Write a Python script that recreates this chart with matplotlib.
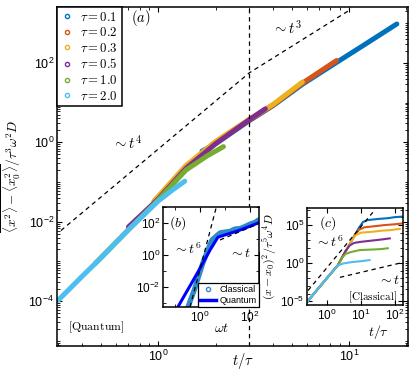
import numpy as np
import matplotlib
matplotlib.use('Agg')
import matplotlib.pyplot as plt
from matplotlib.lines import Line2D
from matplotlib.ticker import LogLocator, NullFormatter

plt.rcParams['font.family'] = ['Liberation Sans', 'DejaVu Sans']
plt.rcParams['mathtext.fontset'] = 'cm'
plt.rcParams['axes.linewidth'] = 1.1

#######################################################################################################
# data
#######################################################################################################
tau_labels = [r'$\tau = 0.1$', r'$\tau = 0.2$', r'$\tau = 0.3$', r'$\tau = 0.5$', r'$\tau = 1.0$', r'$\tau = 2.0$']
colors = ['#0072BD', '#D95319', '#EDB120', '#7E2F8E', '#77AC30', '#4DBEEE']

# (a) quantum, main panel: t/tau vs normalised variance
x_tau01 = [1.7, 2.0, 3.0, 4.0, 5.7, 8.6, 12.0, 17.8]
y_tau01 = [0.6, 0.92, 3.5, 8.4, 29, 103, 285, 960]
x_tau02 = [1.9, 3.0, 4.0, 5.7, 8.6]
y_tau02 = [0.85, 3.6, 8.7, 31, 115]
x_tau03 = [0.95, 1.4, 2.0, 3.0, 4.0, 5.7]
y_tau03 = [0.033, 0.26, 1.05, 3.8, 9.0, 33]
x_tau05 = [0.7, 1.0, 1.4, 2.0, 3.0, 3.65]
y_tau05 = [7.4e-3, 0.037, 0.22, 0.92, 3.7, 7.0]
x_tau10 = [0.47, 0.7, 1.0, 1.4, 1.8, 2.2]
y_tau10 = [9e-4, 6.3e-3, 0.035, 0.2, 0.45, 0.78]
x_tau20 = [0.3, 0.4, 0.5, 0.7, 1.0, 1.2, 1.38]
y_tau20 = [1.05e-4, 4.2e-4, 1.2e-3, 6.3e-3, 0.033, 0.065, 0.105]

guide_a_x = [0.31, 3.0, 10.0]          # ~t^4 then ~t^3
guide_a_y = [6.0e-3, 56, 2.1e3]
t_vline = 3.0

# (b) classical vs quantum, omega t
b_classical_t = [0.33, 0.6, 1.3, 3.0, 6.3, 10, 16, 25, 40, 63, 100, 160, 210]
b_classical_y = [5.6e-4, 7e-3, 0.32, 8.7, 24, 27, 30, 42, 45, 60, 85, 110, 150]
b_quantum_t = [0.13, 0.83, 2.5, 5.2, 10, 32, 100, 210]
b_quantum_y = [5.6e-4, 0.087, 2.0, 13, 18, 32, 63, 100]
b_t6_x, b_t6_y = [0.4, 4.4], [5.6e-4, 870]
b_t1_x, b_t1_y = [6.3, 210], [8.7, 87]

# (c) classical, all tau
c_x_tau01 = [0.26, 0.5, 1.0, 1.6, 2.1, 2.8, 3.5, 4.5, 5.6, 7.1, 8.9, 11.5, 15.8, 31.6, 63, 100, 180]
c_y_tau01 = [8e-6, 2.8e-4, 1.1e-2, 0.13, 0.54, 5.8, 35, 220, 1350, 8.3e3, 5e4, 2.5e5, 4.5e5, 6.3e5, 8e5, 1.1e6, 1.3e6]
c_x_tau02 = [0.26, 0.5, 1.0, 1.6, 2.1, 2.8, 3.5, 4.5, 5.6, 7.1, 8.9, 12.6, 25, 50, 100, 158]
c_y_tau02 = [8e-6, 2.8e-4, 1.1e-2, 0.13, 0.54, 5.8, 35, 220, 1350, 8e3, 2.5e4, 5e4, 7e4, 1e5, 1.26e5, 1.6e5]
c_x_tau03 = [0.26, 0.5, 1.0, 1.6, 2.1, 2.8, 3.5, 4.5, 5.6, 7.1, 10, 20, 40, 79, 141]
c_y_tau03 = [8e-6, 2.8e-4, 1.1e-2, 0.13, 0.54, 5.8, 35, 220, 1260, 5e3, 1e4, 1.26e4, 1.8e4, 2.2e4, 3.2e4]
c_x_tau05 = [0.26, 0.5, 1.0, 1.6, 2.1, 2.8, 3.5, 4.6, 6.3, 10, 20, 40, 71]
c_y_tau05 = [8e-6, 2.8e-4, 1.1e-2, 0.13, 0.54, 5.8, 35, 200, 450, 630, 890, 1260, 1780]
c_x_tau10 = [0.26, 0.5, 1.0, 1.6, 2.1, 2.8, 3.5, 5.0, 9.3, 20, 40, 62]
c_y_tau10 = [8e-6, 2.8e-4, 1.1e-2, 0.13, 0.54, 5.0, 16, 28, 52, 60, 70, 89]
c_x_tau20 = [0.26, 0.5, 1.0, 1.6, 2.1, 3.0, 5.0, 10, 18]
c_y_tau20 = [8e-6, 2.8e-4, 1.1e-2, 0.13, 0.5, 0.9, 1.3, 1.8, 2.5]
c_t6_x, c_t6_y = [0.275, 22.4], [2.5e-4, 4.7e6]
c_t1_x, c_t1_y = [2.4, 141], [0.0135, 1.0]


def matlab_ticks(ax, size=8):
    ax.tick_params(which='both', direction='in', top=True, right=True, labelsize=size, pad=2)
    ax.tick_params(which='major', length=3.5, width=0.8)
    ax.tick_params(which='minor', length=2, width=0.6)


fig = plt.figure(figsize=(4.15, 3.73), dpi=100)

#######################################################################################################
# (a) main panel
#######################################################################################################
ax = fig.add_axes([57 / 415, 1 - 346 / 373, 351 / 415, 339 / 373])
main_x = [x_tau01, x_tau02, x_tau03, x_tau05, x_tau10, x_tau20]
main_y = [y_tau01, y_tau02, y_tau03, y_tau05, y_tau10, y_tau20]
for xs, ys, c in zip(main_x, main_y, colors):
    ax.plot(xs, ys, color=c, lw=3.6, solid_capstyle='round')
ax.plot(guide_a_x, guide_a_y, 'k--', lw=0.9, dashes=(3.5, 3))
ax.axvline(t_vline, color='k', ls='--', lw=0.9, dashes=(3.5, 3))
ax.set_xscale('log')
ax.set_yscale('log')
ax.set_xlim(10 ** -0.529, 10 ** 1.309)
ax.set_ylim(10 ** -5.13, 10 ** 3.41)
ax.set_xticks([1, 10])
ax.set_yticks([1e-4, 1e-2, 1, 1e2])
ax.xaxis.set_minor_locator(LogLocator(base=10, subs=np.arange(1, 10), numticks=50))
ax.yaxis.set_minor_locator(LogLocator(base=10, subs=np.arange(1, 10), numticks=50))
ax.xaxis.set_minor_formatter(NullFormatter())
ax.yaxis.set_minor_formatter(NullFormatter())
matlab_ticks(ax, size=9)
ax.set_xlabel(r'$t/\tau$', fontsize=10.5)
ax.xaxis.set_label_coords(0.53, -0.015)
ax.set_ylabel(r'$\overline{\langle x^2\rangle - \langle x_0^2\rangle}/\tau^3\omega^2 D$', fontsize=9.5)
ax.yaxis.set_label_coords(-0.1, 0.5)

handles = [Line2D([], [], ls='none', marker='o', ms=3, mfc='none', mec=c, mew=1) for c in colors]
leg = ax.legend(handles, tau_labels, loc='upper left', bbox_to_anchor=(0, 1), borderaxespad=0,
                fancybox=False, edgecolor='k', framealpha=1, fontsize=9.2, handlelength=0.9,
                handletextpad=0.6, labelspacing=0.2, borderpad=0.3)
leg.get_frame().set_linewidth(1.1)

ax.text(0.21, 0.968, r'$(a)$', transform=ax.transAxes, fontsize=10.5, ha='left', va='center')
ax.text(0.2, 0.6, r'$\sim t^4$', transform=ax.transAxes, fontsize=10.5, ha='center', va='center')
ax.text(0.655, 0.938, r'$\sim t^3$', transform=ax.transAxes, fontsize=10.5, ha='center', va='center')
ax.text(0.03, 0.056, r'$\mathrm{[Quantum]}$', transform=ax.transAxes, fontsize=8.5, ha='left', va='center')

#######################################################################################################
# (b) inset: classical vs quantum
#######################################################################################################
axb = fig.add_axes([163 / 415, 1 - 307 / 373, 96 / 415, 100 / 373])
axb.plot(b_classical_t, b_classical_y, color='#2d8cc8', lw=3.8, solid_capstyle='round')
axb.plot(b_quantum_t, b_quantum_y, color='#0000ff', lw=2.2)
axb.plot(b_t6_x, b_t6_y, 'k--', lw=0.9, dashes=(3.5, 3))
axb.plot(b_t1_x, b_t1_y, 'k--', lw=0.9, dashes=(3.5, 3))
axb.set_xscale('log')
axb.set_yscale('log')
axb.set_xlim(10 ** -1.48, 10 ** 2.36)
axb.set_ylim(10 ** -3.25, 10 ** 3.0)
axb.set_xticks([1, 100])
axb.set_yticks([1e-2, 1, 1e2])
axb.xaxis.set_minor_locator(LogLocator(base=10, subs=(1.0,), numticks=20))
axb.yaxis.set_minor_locator(LogLocator(base=10, subs=(1.0,), numticks=20))
axb.xaxis.set_minor_formatter(NullFormatter())
axb.yaxis.set_minor_formatter(NullFormatter())
matlab_ticks(axb, size=8.5)
axb.set_xlabel(r'$\omega t$', fontsize=10)
axb.xaxis.set_label_coords(0.61, -0.14)
hb = [Line2D([], [], ls='none', marker='o', ms=3, mfc='none', mec='#2d8cc8', mew=1),
      Line2D([], [], color='#0000ff', lw=2.5)]
legb = axb.legend(hb, ['Classical', 'Quantum'], loc='lower right', borderaxespad=0, fancybox=False,
                  edgecolor='k', framealpha=1, fontsize=6.5, handlelength=1.8, handletextpad=0.4,
                  labelspacing=0.15, borderpad=0.25)
legb.get_frame().set_linewidth(0.9)
axb.text(0.06, 0.84, r'$(b)$', transform=axb.transAxes, fontsize=10, ha='left', va='center')
axb.text(0.25, 0.58, r'$\sim t^6$', transform=axb.transAxes, fontsize=10, ha='center', va='center')
axb.text(0.8, 0.54, r'$\sim t$', transform=axb.transAxes, fontsize=10, ha='center', va='center')

#######################################################################################################
# (c) inset: classical, all tau
#######################################################################################################
axc = fig.add_axes([307 / 415, 1 - 305 / 373, 96 / 415, 97 / 373])
c_x = [c_x_tau01, c_x_tau02, c_x_tau03, c_x_tau05, c_x_tau10, c_x_tau20]
c_y = [c_y_tau01, c_y_tau02, c_y_tau03, c_y_tau05, c_y_tau10, c_y_tau20]
for xs, ys, c in zip(c_x, c_y, colors):
    axc.plot(xs, ys, color=c, lw=1.5)
axc.plot(c_t6_x, c_t6_y, 'k--', lw=0.9, dashes=(3.5, 3))
axc.plot(c_t1_x, c_t1_y, 'k--', lw=0.9, dashes=(3.5, 3))
axc.set_xscale('log')
axc.set_yscale('log')
axc.set_xlim(10 ** -0.59, 10 ** 2.24)
axc.set_ylim(10 ** -5.5, 10 ** 7.24)
axc.set_xticks([1, 10, 100])
axc.set_yticks([1e-5, 1, 1e5])
axc.xaxis.set_minor_locator(LogLocator(base=10, subs=(1.0,), numticks=20))
axc.yaxis.set_minor_locator(LogLocator(base=10, subs=(1.0,), numticks=20))
axc.xaxis.set_minor_formatter(NullFormatter())
axc.yaxis.set_minor_formatter(NullFormatter())
matlab_ticks(axc, size=8.5)
axc.set_xlabel(r'$t/\tau$', fontsize=10)
axc.xaxis.set_label_coords(0.74, -0.19)
axc.set_ylabel(r'$\overline{(x-x_0)^2}/\tau^5\omega^4 D$', fontsize=8.5)
axc.yaxis.set_label_coords(-0.3, 0.5)
axc.text(0.12, 0.845, r'$(c)$', transform=axc.transAxes, fontsize=10, ha='left', va='center')
axc.text(0.23, 0.65, r'$\sim t^6$', transform=axc.transAxes, fontsize=10, ha='center', va='center')
axc.text(0.86, 0.26, r'$\sim t$', transform=axc.transAxes, fontsize=10, ha='center', va='center')
axc.text(0.68, 0.08, r'$\mathrm{[Classical]}$', transform=axc.transAxes, fontsize=8, ha='center', va='center')

fig.savefig('out.png', dpi=100)
